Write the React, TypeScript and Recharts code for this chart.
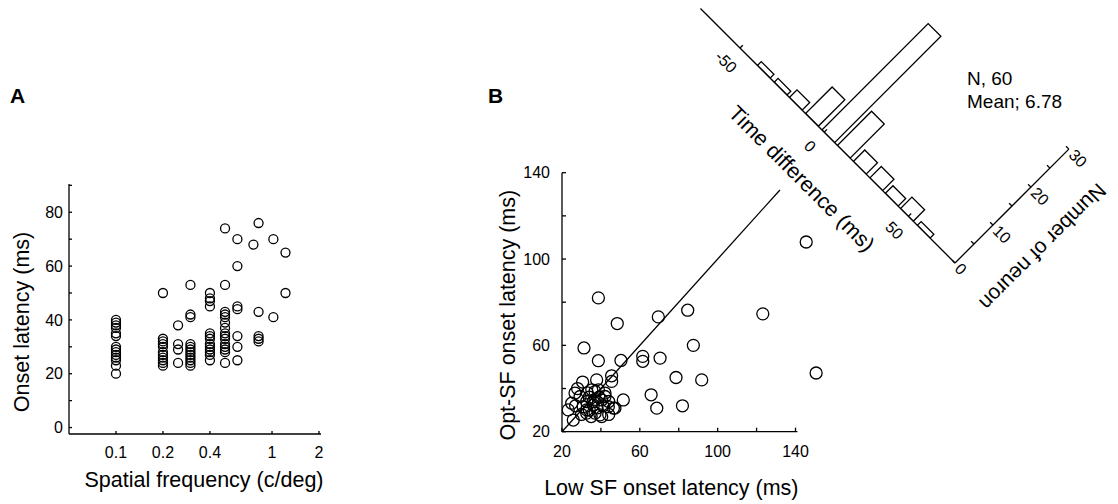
import React from 'react';
import { ScatterChart, Scatter, XAxis, YAxis, ReferenceLine, BarChart, Bar } from 'recharts';

const FONT = '"Liberation Sans", Arial, Helvetica, sans-serif';

// ---------- Panel A: onset latency vs spatial frequency ----------
const sfColumns = [0.1, 0.2, 0.25, 0.3, 0.4, 0.5, 0.6, 0.76, 0.82, 1.02, 1.22];
const latAt010 = [40, 39, 38, 37, 35, 34, 30, 29, 28, 27, 26, 25, 23, 20];
const latAt020 = [50, 33, 32, 31, 30, 28, 27, 26, 25, 24, 23];
const latAt025 = [38, 31, 29, 24];
const latAt030 = [53, 42, 41, 31, 30, 29, 28, 27, 26, 25, 24, 23];
const latAt040 = [50, 48, 47, 45, 35, 34, 33, 31, 30, 29, 28, 27, 25];
const latAt050 = [74, 53, 43, 42, 41, 39, 37, 35, 34, 33, 31, 30, 29, 28, 24];
const latAt060 = [70, 60, 45, 44, 34, 30, 25];
const latAt076 = [68];
const latAt082 = [76, 43, 34, 33, 32];
const latAt102 = [70, 41];
const latAt122 = [65, 50];
const latColumns = [latAt010, latAt020, latAt025, latAt030, latAt040, latAt050, latAt060, latAt076, latAt082, latAt102, latAt122];
const sfTicks = [0.1, 0.2, 0.4, 1, 2];
const latTicks = [0, 10, 20, 30, 40, 50, 60, 70, 80, 90];

const dataA = sfColumns.flatMap((sf, i) => latColumns[i].map((lat) => ({ sf, lat })));

// ---------- Panel B: opt-SF vs low-SF onset latency ----------
const lowSFLatency = [
  145.5, 150.6, 123.2, 84.6, 69.5, 87.5, 38.7, 48.4, 31.3, 38.7, 50.3, 61.5, 61.5, 70.4, 78.6, 91.8,
  65.8, 68.7, 81.9, 51.5, 45.5, 45.5, 30.6, 37.8,
  23.2, 25.8, 25.0, 29.3, 32.7, 32.7, 36.1, 37.0, 40.4, 40.4, 43.8, 47.2, 42.1, 38.7, 30.9, 35.3,
  26.7, 37.0, 42.1, 39.5, 32.7, 46.4, 28.0, 34.0, 36.0, 38.0, 41.0, 44.0, 34.0, 30.0, 27.0, 35.0,
  44.0, 39.0, 33.0, 37.0,
];
const optSFLatency = [
  107.9, 47.2, 74.6, 76.3, 73.2, 60.0, 82.0, 70.1, 58.8, 52.9, 53.0, 54.9, 52.6, 54.1, 45.1, 44.0,
  37.1, 30.9, 32.0, 34.7, 45.9, 43.3, 43.0, 44.0,
  30.1, 25.4, 33.2, 36.3, 34.0, 30.1, 32.4, 28.6, 34.7, 27.0, 31.6, 30.9, 37.9, 39.4, 31.6, 39.4,
  37.9, 38.6, 36.3, 27.8, 28.6, 30.9, 40.0, 36.0, 34.0, 31.0, 32.0, 34.0, 30.0, 28.0, 32.0, 27.0,
  28.0, 36.0, 38.0, 35.0,
];
const bTicks = [20, 40, 60, 80, 100, 120, 140];
const bAxisRange = [20, 141];
const unityLine = [20, 132];

const dataB = lowSFLatency.map((low, i) => ({ low, opt: optSFLatency[i] }));

// ---------- Histogram of time differences ----------
const timeBins = [-36, -26, -17, -7.4, 2.3, 11.5, 21, 30.8, 40, 49, 59];
const neuronCounts = [1, 1, 2, 7, 28, 9, 3, 3, 2, 3, 1];
const timeTicks = [-50, 0, 50];
const countTicks = [0, 5, 10, 15, 20, 25, 30];

const histData = timeBins.map((t, i) => ({ t, n: neuronCounts[i] }));

const tickStyle = { fontSize: 16, fill: '#000', fontFamily: FONT };
const axisStroke = { stroke: '#000', strokeWidth: 1.3 };

function AxisTitle(props: any) {
  const { viewBox, text, side, dist, shift = 0, rot = 0, size = 21.5 } = props;
  if (!viewBox) return null;
  const { x, y, width, height } = viewBox;
  let cx = 0;
  let cy = 0;
  if (side === 'bottom') {
    cx = x + width / 2 + shift;
    cy = y + dist;
  } else if (side === 'left') {
    cx = x + width - dist;
    cy = y + height / 2 + shift;
  } else {
    cx = x + dist;
    cy = y + height / 2 + shift;
  }
  return (
    <text
      x={cx}
      y={cy}
      transform={`rotate(${rot} ${cx} ${cy})`}
      textAnchor="middle"
      dominantBaseline="central"
      fontSize={size}
      fontFamily={FONT}
      fill="#000"
    >
      {text}
    </text>
  );
}

const ringA = (p: any) => <circle cx={p.cx} cy={p.cy} r={4.5} fill="none" stroke="#000" strokeWidth={1.3} />;
const ringB = (p: any) => <circle cx={p.cx} cy={p.cy} r={6} fill="none" stroke="#000" strokeWidth={1.3} />;

export default function App() {
  return (
    <div
      style={{
        position: 'absolute',
        left: 0,
        top: 0,
        width: 1118,
        height: 504,
        background: '#fff',
        overflow: 'hidden',
        fontFamily: FONT,
      }}
    >
      {/* Panel A */}
      <div style={{ position: 'absolute', left: 0, top: 160 }}>
        <ScatterChart width={340} height={344} margin={{ top: 24, right: 19, left: 9, bottom: 0 }}>
          <XAxis
            type="number"
            dataKey="sf"
            scale="log"
            domain={[0.05, 2.06]}
            ticks={sfTicks}
            allowDataOverflow
            height={70}
            tickSize={-3}
            tickMargin={16}
            tick={tickStyle}
            axisLine={axisStroke}
            tickLine={axisStroke}
            tickFormatter={(v: number) => String(v)}
            label={<AxisTitle text="Spatial frequency (c/deg)" side="bottom" dist={46} shift={9} />}
          />
          <YAxis
            type="number"
            dataKey="lat"
            domain={[-2.4, 90.5]}
            ticks={latTicks}
            allowDataOverflow
            width={60}
            tickSize={-3}
            tickMargin={9}
            tick={tickStyle}
            axisLine={axisStroke}
            tickLine={axisStroke}
            tickFormatter={(v: number) => (v % 20 === 0 ? String(v) : '')}
            label={<AxisTitle text="Onset latency (ms)" side="left" dist={47} shift={13} rot={-90} />}
          />
          <Scatter data={dataA} shape={ringA} isAnimationActive={false} />
        </ScatterChart>
      </div>

      {/* Panel B scatter */}
      <div style={{ position: 'absolute', left: 440, top: 150 }}>
        <ScatterChart width={394.7} height={354} margin={{ top: 22.7, right: 10, left: 14, bottom: 0 }}>
          <XAxis
            type="number"
            dataKey="low"
            domain={[20, 155]}
            ticks={bTicks}
            allowDataOverflow
            height={72.3}
            tickSize={-4}
            tickMargin={18}
            tick={tickStyle}
            axisLine={false}
            tickLine={axisStroke}
            tickFormatter={(v: number) => ((v - 20) % 40 === 0 ? String(v) : '')}
            label={<AxisTitle text="Low SF onset latency (ms)" side="bottom" dist={56} shift={-22} />}
          />
          <YAxis
            type="number"
            dataKey="opt"
            domain={[20, 140]}
            ticks={bTicks}
            allowDataOverflow
            width={108}
            tickSize={-4}
            tickMargin={16}
            tick={tickStyle}
            axisLine={axisStroke}
            tickLine={axisStroke}
            tickFormatter={(v: number) => ((v - 20) % 40 === 0 ? String(v) : '')}
            label={<AxisTitle text="Opt-SF onset latency (ms)" side="left" dist={54} shift={13} rot={-90} />}
          />
          <ReferenceLine
            segment={[
              { x: bAxisRange[0], y: 20 },
              { x: bAxisRange[1], y: 20 },
            ]}
            stroke="#000"
            strokeWidth={1.3}
            ifOverflow="visible"
          />
          <ReferenceLine
            segment={[
              { x: unityLine[0], y: unityLine[0] },
              { x: unityLine[1], y: unityLine[1] },
            ]}
            stroke="#000"
            strokeWidth={1.3}
            ifOverflow="visible"
          />
          <Scatter data={dataB} shape={ringB} isAnimationActive={false} />
        </ScatterChart>
      </div>

      {/* Rotated histogram */}
      <div
        style={{
          position: 'absolute',
          left: 590,
          top: 77,
          width: 478,
          height: 271,
          transform: 'rotate(45deg)',
          transformOrigin: '365px 186px',
        }}
      >
        <BarChart width={478} height={271} data={histData} margin={{ top: 25, right: 5, left: 5, bottom: 5 }}>
          <XAxis
            type="number"
            dataKey="t"
            domain={[-73.5, 77.7]}
            ticks={timeTicks}
            allowDataOverflow
            height={80}
            tickSize={-4}
            tickMargin={18}
            tick={tickStyle}
            axisLine={axisStroke}
            tickLine={axisStroke}
            label={<AxisTitle text="Time difference (ms)" side="bottom" dist={49} shift={12} />}
          />
          <YAxis
            type="number"
            orientation="right"
            domain={[0, 30]}
            ticks={countTicks}
            allowDataOverflow
            width={108}
            tickSize={-4}
            tickMargin={8}
            tick={tickStyle}
            axisLine={axisStroke}
            tickLine={axisStroke}
            tickFormatter={(v: number) => (v % 10 === 0 ? String(v) : '')}
            label={<AxisTitle text="Number of neuron" side="right" dist={51} shift={7} rot={90} size={21} />}
          />
          <Bar dataKey="n" fill="#fff" stroke="#000" strokeWidth={1.3} barSize={18} isAnimationActive={false} />
        </BarChart>
      </div>

      {/* Panel letters and summary text */}
      <svg width={1118} height={504} style={{ position: 'absolute', left: 0, top: 0, pointerEvents: 'none' }}>
        <text x={10} y={103} fontSize={21} fontWeight="bold" fontFamily={FONT} fill="#000">A</text>
        <text x={488} y={103} fontSize={21} fontWeight="bold" fontFamily={FONT} fill="#000">B</text>
        <text x={967} y={85} fontSize={19} fontFamily={FONT} fill="#000">N, 60</text>
        <text x={967} y={108.3} fontSize={19} fontFamily={FONT} fill="#000">Mean; 6.78</text>
      </svg>
    </div>
  );
}
